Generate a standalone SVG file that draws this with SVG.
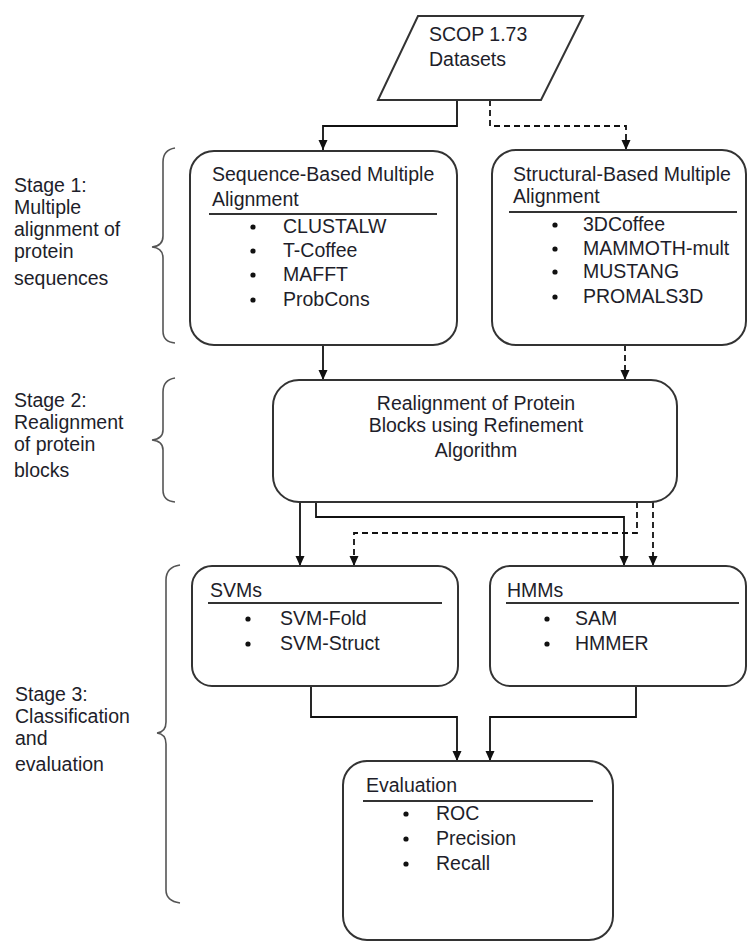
<svg xmlns="http://www.w3.org/2000/svg" width="750" height="942" viewBox="0 0 750 942">
<defs>
<style>
.box{fill:#fff;stroke:#333;stroke-width:2}
.t{font-family:"Liberation Sans",Arial,sans-serif;font-size:19.5px;fill:#1e1e2a}
.c{text-anchor:middle}
.rule{stroke:#333;stroke-width:2}
.br{fill:none;stroke:#555;stroke-width:1.6}
.ln{fill:none;stroke:#111;stroke-width:1.8}
.dash{stroke-dasharray:6 4}
.dot{fill:#111}
</style>
<marker id="ah" markerUnits="userSpaceOnUse" markerWidth="10" markerHeight="10" refX="10" refY="4.5" orient="auto">
<path d="M0,0 L10,4.5 L0,9 z" fill="#111"/>
</marker>
</defs>

<g id="connectors">
<path class="ln" d="M457,100 V126 H323 V150" marker-end="url(#ah)"/>
<path class="ln dash" d="M490,100 V126 H626 V150" marker-end="url(#ah)"/>
<path class="ln" d="M323,345 V380" marker-end="url(#ah)"/>
<path class="ln dash" d="M625,345 V380" marker-end="url(#ah)"/>
<path class="ln" d="M300,502 V566" marker-end="url(#ah)"/>
<path class="ln" d="M316,502 V517 H624 V566" marker-end="url(#ah)"/>
<path class="ln dash" d="M637,502 V533 H354 V566" marker-end="url(#ah)"/>
<path class="ln dash" d="M653,502 V566" marker-end="url(#ah)"/>
<path class="ln" d="M311,686 V717 H457 V761" marker-end="url(#ah)"/>
<path class="ln" d="M636,686 V717 H490 V761" marker-end="url(#ah)"/>
</g>

<g id="scop">
<polygon class="box" points="418,16 583,16 541,100 378,100"/>
<text class="t" x="429" y="41">SCOP 1.73</text>
<text class="t" x="429" y="66">Datasets</text>
</g>

<g id="stage1">
<path class="br" d="M175,148 Q163,150 163,162 L163,236 Q163,246 152,247 Q163,248 163,258 L163,331 Q163,342 175,343"/>
<text class="t" x="14" y="192">Stage 1:</text>
<text class="t" x="14" y="214">Multiple</text>
<text class="t" x="14" y="236">alignment of</text>
<text class="t" x="14" y="258">protein</text>
<text class="t" x="14" y="285">sequences</text>
</g>

<g id="seq">
<rect class="box" x="190" y="151" width="267" height="194" rx="24"/>
<text class="t" x="212" y="181">Sequence-Based Multiple</text>
<text class="t" x="212" y="206">Alignment</text>
<line class="rule" x1="209" y1="214" x2="437" y2="214"/>
<circle class="dot" cx="253" cy="227" r="2.6"/><text class="t" x="283" y="233">CLUSTALW</text>
<circle class="dot" cx="253" cy="251" r="2.6"/><text class="t" x="283" y="257">T-Coffee</text>
<circle class="dot" cx="253" cy="275" r="2.6"/><text class="t" x="283" y="281">MAFFT</text>
<circle class="dot" cx="253" cy="300" r="2.6"/><text class="t" x="283" y="306">ProbCons</text>
</g>

<g id="struct">
<rect class="box" x="492" y="150" width="254" height="195" rx="24"/>
<text class="t" x="513" y="181">Structural-Based Multiple</text>
<text class="t" x="513" y="203">Alignment</text>
<line class="rule" x1="509" y1="212" x2="737" y2="212"/>
<circle class="dot" cx="555" cy="225" r="2.6"/><text class="t" x="583" y="231">3DCoffee</text>
<circle class="dot" cx="555" cy="249" r="2.6"/><text class="t" x="583" y="255">MAMMOTH-mult</text>
<circle class="dot" cx="555" cy="272" r="2.6"/><text class="t" x="583" y="278">MUSTANG</text>
<circle class="dot" cx="555" cy="297" r="2.6"/><text class="t" x="583" y="303">PROMALS3D</text>
</g>

<g id="stage2">
<path class="br" d="M175,378 Q163,380 163,392 L163,430 Q163,439 152,440 Q163,441 163,450 L163,490 Q163,501 175,502"/>
<text class="t" x="14" y="407">Stage 2:</text>
<text class="t" x="14" y="429">Realignment</text>
<text class="t" x="14" y="451">of protein</text>
<text class="t" x="14" y="477">blocks</text>
</g>

<g id="realign">
<rect class="box" x="273" y="380" width="404" height="122" rx="26"/>
<text class="t c" x="476" y="410">Realignment of Protein</text>
<text class="t c" x="476" y="432">Blocks using Refinement</text>
<text class="t c" x="476" y="457">Algorithm</text>
</g>

<g id="stage3">
<path class="br" d="M180,565 Q166,567 166,580 L166,722 Q166,732 157,733 Q166,734 166,744 L166,890 Q166,901 180,903"/>
<text class="t" x="15" y="701">Stage 3:</text>
<text class="t" x="15" y="723">Classification</text>
<text class="t" x="15" y="745">and</text>
<text class="t" x="15" y="771">evaluation</text>
</g>

<g id="svms">
<rect class="box" x="192" y="566" width="266" height="120" rx="20"/>
<text class="t" x="210" y="597">SVMs</text>
<line class="rule" x1="208" y1="603" x2="442" y2="603"/>
<circle class="dot" cx="248" cy="619" r="2.6"/><text class="t" x="280" y="625">SVM-Fold</text>
<circle class="dot" cx="248" cy="644" r="2.6"/><text class="t" x="280" y="650">SVM-Struct</text>
</g>

<g id="hmms">
<rect class="box" x="490" y="566" width="256" height="120" rx="20"/>
<text class="t" x="507" y="597">HMMs</text>
<line class="rule" x1="506" y1="603" x2="739" y2="603"/>
<circle class="dot" cx="547" cy="619" r="2.6"/><text class="t" x="575" y="625">SAM</text>
<circle class="dot" cx="547" cy="644" r="2.6"/><text class="t" x="575" y="650">HMMER</text>
</g>

<g id="evaluation">
<rect class="box" x="343" y="761" width="270" height="179" rx="24"/>
<text class="t" x="366" y="792">Evaluation</text>
<line class="rule" x1="363" y1="801" x2="593" y2="801"/>
<circle class="dot" cx="406" cy="814" r="2.6"/><text class="t" x="436" y="820">ROC</text>
<circle class="dot" cx="406" cy="839" r="2.6"/><text class="t" x="436" y="845">Precision</text>
<circle class="dot" cx="406" cy="864" r="2.6"/><text class="t" x="436" y="870">Recall</text>
</g>
</svg>
